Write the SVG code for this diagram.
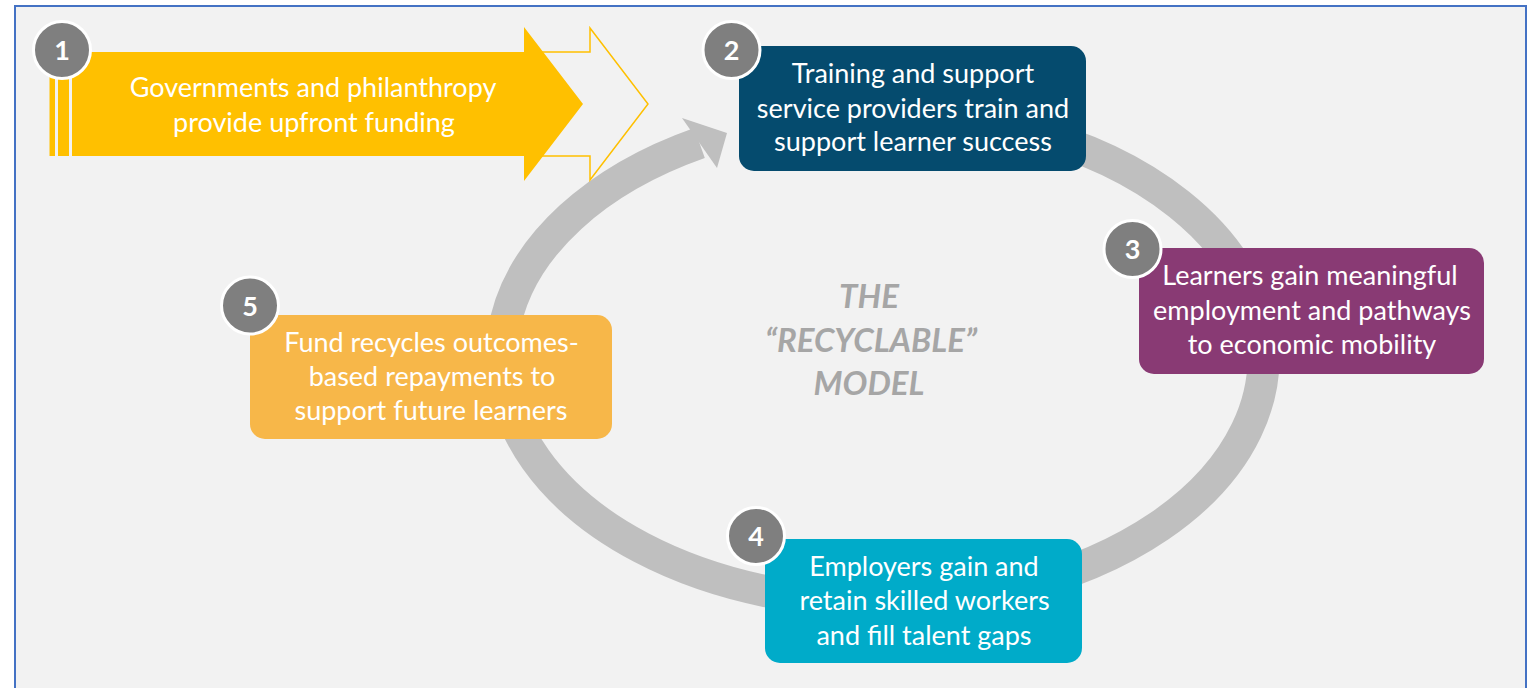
<svg xmlns="http://www.w3.org/2000/svg" width="1534" height="688" viewBox="0 0 1534 688">
<style>
.lbl{font-family:Lato,"Open Sans","Liberation Sans",sans-serif;font-size:27px;fill:#ffffff;text-anchor:middle}
.badge circle{fill:#7f7f7f;stroke:#ffffff;stroke-width:3}
.badge text{font-family:Lato,"Liberation Sans",sans-serif;font-size:27px;font-weight:bold;fill:#ffffff;text-anchor:middle}
.center{font-family:Lato,"Open Sans","Liberation Sans",sans-serif;font-size:33px;font-weight:bold;font-style:italic;fill:#a6a6a6;text-anchor:middle}
</style>
<rect x="0" y="0" width="1534" height="688" fill="#ffffff"/>
<rect x="15" y="6" width="1511" height="700" fill="#f2f2f2" stroke="#4472c4" stroke-width="2"/>

<g id="connectors">
  <path d="M 850 113.8 A 381 245 0 1 1 699.5 143" fill="none" stroke="#bfbfbf" stroke-width="32"/>
  <polygon points="682,118 727,133 717,168" fill="#bfbfbf"/>
</g>

<g id="center-title">
  <text class="center" x="869" y="308">THE</text>
  <text class="center" x="871" y="352">“RECYCLABLE”</text>
  <text class="center" x="869" y="395">MODEL</text>
</g>

<g id="node1">
  <path d="M 524 52 L 590 52 L 590 28 L 648 104 L 590 180 L 590 156 L 524 156" fill="none" stroke="#ffc000" stroke-width="1.5"/>
  <rect x="49.5" y="52" width="5.5" height="104" fill="#ffc000"/>
  <rect x="58" y="52" width="11" height="104" fill="#ffc000"/>
  <polygon points="72,52 524,52 524,27 583,104 524,181 524,156 72,156" fill="#ffc000"/>
  <text class="lbl" x="313" y="97">Governments and philanthropy</text>
  <text class="lbl" x="314" y="132">provide upfront funding</text>
  <g class="badge"><circle cx="62" cy="50" r="28.5"/><text x="62" y="60">1</text></g>
</g>

<g id="node2">
  <rect x="739" y="46" width="347" height="125" rx="15" fill="#054b6e"/>
  <text class="lbl" x="913" y="83">Training and support</text>
  <text class="lbl" x="913" y="117.5">service providers train and</text>
  <text class="lbl" x="913" y="151">support learner success</text>
  <g class="badge"><circle cx="731.5" cy="50" r="28.5"/><text x="731.5" y="60">2</text></g>
</g>

<g id="node3">
  <rect x="1139" y="248" width="345" height="126" rx="15" fill="#893a74"/>
  <text class="lbl" x="1310" y="285">Learners gain meaningful</text>
  <text class="lbl" x="1312" y="320">employment and pathways</text>
  <text class="lbl" x="1312" y="354">to economic mobility</text>
  <g class="badge"><circle cx="1132.5" cy="249" r="28.5"/><text x="1132.5" y="259">3</text></g>
</g>

<g id="node4">
  <rect x="765" y="539" width="317" height="124" rx="15" fill="#00abc9"/>
  <text class="lbl" x="924" y="576">Employers gain and</text>
  <text class="lbl" x="924.5" y="610">retain skilled workers</text>
  <text class="lbl" x="924" y="645">and fill talent gaps</text>
  <g class="badge"><circle cx="756" cy="536" r="28.5"/><text x="756" y="546">4</text></g>
</g>

<g id="node5">
  <rect x="250" y="315" width="362" height="124" rx="15" fill="#f7b749"/>
  <text class="lbl" x="431.5" y="351.5">Fund recycles outcomes-</text>
  <text class="lbl" x="432" y="385.5">based repayments to</text>
  <text class="lbl" x="431" y="420">support future learners</text>
  <g class="badge"><circle cx="250" cy="305.5" r="28.5"/><text x="250" y="315.5">5</text></g>
</g>
</svg>
